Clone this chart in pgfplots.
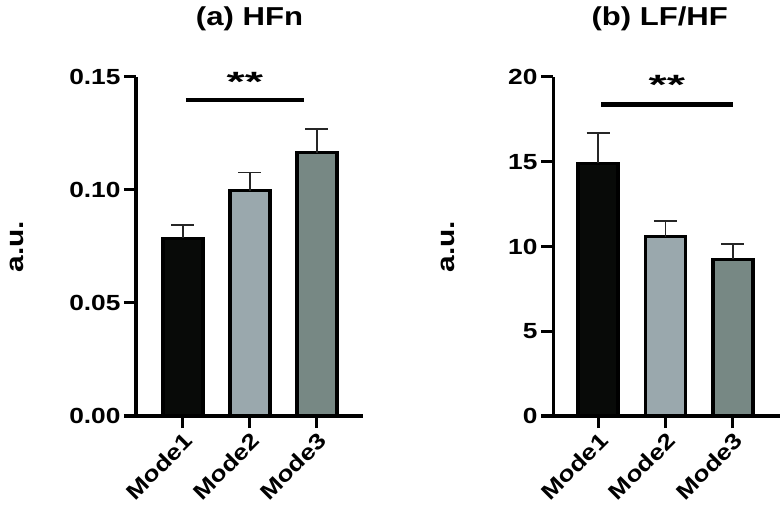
\documentclass[border=0pt]{standalone}
\usepackage{fontspec}
\setmainfont{Liberation Sans}[FakeStretch=1.2]
\usepackage{pgfplots}
\pgfplotsset{compat=1.18}
\definecolor{cA}{HTML}{080A08}
\definecolor{cB}{HTML}{9AA8AD}
\definecolor{cC}{HTML}{778884}
\pgfplotsset{
  myax/.style={
    anchor=south west, scale only axis, width=227bp, height=339bp,
    axis x line=bottom, axis y line=left, clip=false,
    axis line style={line width=3bp, -},
    enlargelimits=false, ymin=0,
    xtick={0,1,2}, xticklabels={Mode1,Mode2,Mode3},
    tick pos=left, tick align=outside, major tick length=12bp,
    tick style={line width=3bp, black},
    x tick label style={rotate=45, anchor=north east, font=\bfseries\fontsize{22}{22}\selectfont, inner sep=2bp},
    y tick label style={font=\bfseries\fontsize{22}{22}\selectfont},
    title style={font=\bfseries\fontsize{26}{26}\selectfont, anchor=center},
    ylabel style={font=\bfseries\fontsize{25}{25}\selectfont, anchor=center},
  },
  mybar/.style={ybar, bar width=40bp, bar shift=0pt, fill=#1, draw=black, line width=3.5bp,
    error bars/.cd, y dir=plus, y explicit,
    error bar style={line width=1.6bp, color=black!85},
    error mark options={rotate=90, mark size=11.5bp, line width=1.6bp, color=black!85}},
}
\begin{document}
\begin{tikzpicture}
\path[use as bounding box] (0bp,0bp) rectangle (784bp,524bp);
\begin{axis}[myax, at={(136bp,108bp)},
  xmin=-0.70, xmax=2.69, ymax=0.15,
  ytick={0,0.05,0.1,0.15}, yticklabels={0.00,0.05,0.10,0.15},
  title={(a) HFn}, title style={at={(axis description cs:0.5,1.153)}},
  ylabel={a.u.}, ylabel style={at={(axis description cs:-0.524,0.5)}},
]
\addplot[mybar=cA] coordinates {(0,0.0786) +- (0,0.0059)};
\addplot[mybar=cB] coordinates {(1,0.0997) +- (0,0.0081)};
\addplot[mybar=cC] coordinates {(2,0.1165) +- (0,0.0105)};
\draw[line width=4.5bp] (axis cs:0.045,0.1398) -- (axis cs:1.81,0.1398);
\node[anchor=base, inner sep=0pt, font=\bfseries\fontsize{28}{28}\selectfont] at (axis cs:0.925,0.1438) {\scalebox{1.4}[1]{**}};
\end{axis}
\begin{axis}[myax, at={(553bp,108bp)},
  xmin=-0.67, xmax=2.70, ymax=20,
  ytick={0,5,10,15,20}, yticklabels={0,5,10,15,20},
  title={(b) LF/HF}, title style={at={(axis description cs:0.47,1.153)}},
  ylabel={a.u.}, ylabel style={at={(axis description cs:-0.463,0.5)}},
]
\addplot[mybar=cA] coordinates {(0,14.91) +- (0,1.77)};
\addplot[mybar=cB] coordinates {(1,10.58) +- (0,0.92)};
\addplot[mybar=cC] coordinates {(2,9.24) +- (0,0.91)};
\draw[line width=4.5bp] (axis cs:0.045,18.39) -- (axis cs:2.0,18.39);
\node[anchor=base, inner sep=0pt, font=\bfseries\fontsize{28}{28}\selectfont] at (axis cs:1.02,18.94) {\scalebox{1.4}[1]{**}};
\end{axis}
\end{tikzpicture}
\end{document}
